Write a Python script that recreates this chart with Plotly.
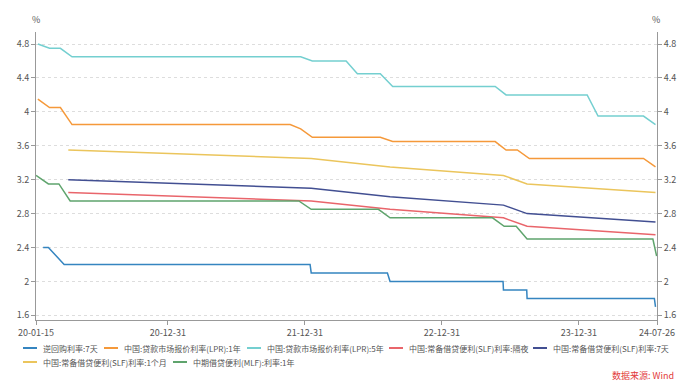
import plotly.graph_objects as go

# ---------------- data ----------------
repo_dates = ["2020-02-03", "2020-02-17", "2020-03-30", "2022-01-14", "2022-01-17",
              "2022-08-08", "2022-08-15", "2023-06-12", "2023-06-13", "2023-08-14",
              "2023-08-15", "2024-07-19", "2024-07-22"]
repo_7d = [2.40, 2.40, 2.20, 2.20, 2.10, 2.10, 2.00, 2.00, 1.90, 1.90, 1.80, 1.80, 1.70]

lpr_dates = ["2020-01-20", "2020-02-20", "2020-03-20", "2020-04-20", "2021-11-22",
             "2021-12-20", "2022-01-20", "2022-04-20", "2022-05-20", "2022-07-20",
             "2022-08-22", "2023-05-22", "2023-06-20", "2023-07-20", "2023-08-21",
             "2024-01-22", "2024-02-20", "2024-06-20", "2024-07-22"]
lpr_1y = [4.15, 4.05, 4.05, 3.85, 3.85, 3.80, 3.70, 3.70, 3.70, 3.70,
          3.65, 3.65, 3.55, 3.55, 3.45, 3.45, 3.45, 3.45, 3.35]
lpr_5y = [4.80, 4.75, 4.75, 4.65, 4.65, 4.65, 4.60, 4.60, 4.45, 4.45,
          4.30, 4.30, 4.20, 4.20, 4.20, 4.20, 3.95, 3.95, 3.85]

slf_dates = ["2020-04-10", "2022-01-17", "2022-08-15", "2023-06-13", "2023-08-15", "2024-07-22"]
slf_on = [3.05, 2.95, 2.85, 2.75, 2.65, 2.55]
slf_7d = [3.20, 3.10, 3.00, 2.90, 2.80, 2.70]
slf_1m = [3.55, 3.45, 3.35, 3.25, 3.15, 3.05]

mlf_dates = ["2020-01-15", "2020-02-17", "2020-03-16", "2020-04-15", "2021-12-15",
             "2022-01-17", "2022-07-15", "2022-08-15", "2023-05-15", "2023-06-15",
             "2023-07-17", "2023-08-15", "2024-07-15", "2024-07-25"]
mlf_1y = [3.25, 3.15, 3.15, 2.95, 2.95, 2.85, 2.85, 2.75, 2.75, 2.65, 2.65, 2.50, 2.50, 2.30]

series_names = ["逆回购利率:7天", "中国:贷款市场报价利率(LPR):1年", "中国:贷款市场报价利率(LPR):5年",
                "中国:常备借贷便利(SLF)利率:隔夜", "中国:常备借贷便利(SLF)利率:7天",
                "中国:常备借贷便利(SLF)利率:1个月", "中期借贷便利(MLF):利率:1年"]
series_colors = ["#3585c0", "#f5993a", "#74cfd0", "#e9656b", "#424f92", "#ebc55c", "#5fa46d"]

x_tick_vals = ["2020-01-15", "2020-12-31", "2021-12-31", "2022-12-31", "2023-12-31", "2024-07-26"]
x_tick_text = ["20-01-15", "20-12-31", "21-12-31", "22-12-31", "23-12-31", "24-07-26"]
y_tick_vals = [1.6, 2.0, 2.4, 2.8, 3.2, 3.6, 4.0, 4.4, 4.8]
y_tick_text = ["1.6", "2", "2.4", "2.8", "3.2", "3.6", "4", "4.4", "4.8"]

# ---------------- figure ----------------
FONT = "Noto Sans CJK SC, Noto Sans, sans-serif"
TXT = "#555555"
W, H = 693, 385
PL, PR, PT, PB = 36, 657, 32, 320


def px_x(p):
    return (p - PL) / (PR - PL)


def px_y(p):
    return (PB - p) / (PB - PT)


data_sets = [(repo_dates, repo_7d), (lpr_dates, lpr_1y), (lpr_dates, lpr_5y),
             (slf_dates, slf_on), (slf_dates, slf_7d), (slf_dates, slf_1m),
             (mlf_dates, mlf_1y)]

fig = go.Figure()
for (xs, ys), name, col in zip(data_sets, series_names, series_colors):
    fig.add_trace(go.Scatter(x=xs, y=ys, name=name, mode="lines",
                             line=dict(color=col, width=1.5), showlegend=False))
# register right axis
fig.add_trace(go.Scatter(x=[], y=[], yaxis="y2", showlegend=False, hoverinfo="skip"))

y_range = [1.545, 4.942]
axis_common = dict(range=y_range, tickmode="array", tickvals=y_tick_vals, ticktext=y_tick_text,
                   ticks="outside", ticklen=4, tickcolor="#999999", showline=True,
                   linecolor="#999999", linewidth=1, zeroline=False,
                   tickfont=dict(size=9, color=TXT, family=FONT))

fig.update_layout(
    width=W, height=H,
    margin=dict(l=PL, r=W - PR, t=PT, b=H - PB),
    paper_bgcolor="white", plot_bgcolor="white",
    font=dict(family=FONT, size=9, color=TXT),
    xaxis=dict(type="date", range=["2020-01-15", "2024-07-26"], tickmode="array",
               tickvals=x_tick_vals, ticktext=x_tick_text, ticks="outside", ticklen=4,
               tickcolor="#999999", showline=True, linecolor="#999999", linewidth=1,
               showgrid=False, zeroline=False, tickfont=dict(size=9, color=TXT, family=FONT)),
    yaxis=dict(**axis_common, showgrid=True, gridcolor="#dddddd", gridwidth=1, griddash="3px,3px"),
    yaxis2=dict(**axis_common, overlaying="y", side="right", anchor="x", showgrid=False),
    showlegend=False,
)

annotations = [
    dict(text="%", x=px_x(36), y=px_y(20), xref="paper", yref="paper", showarrow=False,
         xanchor="center", yanchor="middle", font=dict(size=9, color=TXT, family=FONT)),
    dict(text="%", x=px_x(656), y=px_y(20), xref="paper", yref="paper", showarrow=False,
         xanchor="center", yanchor="middle", font=dict(size=9, color=TXT, family=FONT)),
    dict(text="数据来源: Wind", x=px_x(676), y=px_y(375), xref="paper", yref="paper",
         showarrow=False, xanchor="right", yanchor="middle",
         font=dict(size=9, color="#e23b3b", family=FONT)),
]

# custom legend (two rows)
legend_pos = [(23, 348), (104, 348), (247, 348), (389, 348), (533, 348), (23, 362), (173, 362)]
shapes = []
for (lx, ly), name, col in zip(legend_pos, series_names, series_colors):
    shapes.append(dict(type="line", xref="paper", yref="paper",
                       x0=px_x(lx), x1=px_x(lx + 14), y0=px_y(ly), y1=px_y(ly),
                       line=dict(color=col, width=2)))
    annotations.append(dict(text=name, x=px_x(lx + 18), y=px_y(ly), xref="paper", yref="paper",
                            showarrow=False, xanchor="left", yanchor="middle",
                            font=dict(size=8, color=TXT, family=FONT)))

fig.update_layout(annotations=annotations, shapes=shapes)

fig.write_html("out.html", config={"displayModeBar": False},
               post_script="document.body.style.margin='0';document.body.style.overflow='hidden';")
